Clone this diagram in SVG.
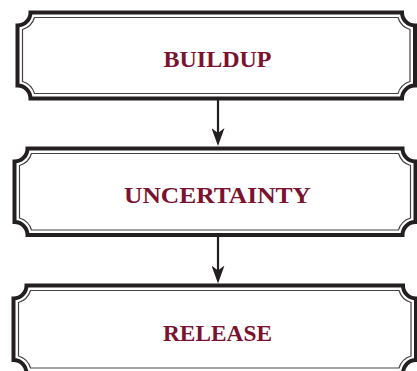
<svg xmlns="http://www.w3.org/2000/svg" width="417" height="371" viewBox="0 0 417 371">
<style>
.outer{fill:#ffffff;stroke:#231f20;stroke-width:4}
.inner{fill:none;stroke:#444444;stroke-width:1.2}
.lbl{font-family:"Liberation Serif","Times New Roman",serif;font-weight:bold;font-size:23px;fill:#7a1230;text-anchor:middle}
.conn{stroke:#231f20;stroke-width:2.2;fill:none}
</style>
<defs>
<marker id="ah" markerUnits="userSpaceOnUse" viewBox="0 0 18 13" markerWidth="18" markerHeight="13" refX="10" refY="6.5" orient="auto">
<path d="M0,0 L18,6.5 L0,13 L5,6.5 Z" fill="#231f20"/>
</marker>
</defs>
<rect width="417" height="371" fill="#ffffff"/>
<g id="connectors">
<line class="conn" x1="218" y1="100" x2="218" y2="138" marker-end="url(#ah)"/>
<line class="conn" x1="218" y1="236.5" x2="218" y2="275.5" marker-end="url(#ah)"/>
</g>
<g id="node-buildup">
<path class="outer" d="M30.5,12.5 H402 A13,13 0 0 0 415,25.5 V85.5 A13,13 0 0 0 402,98.5 H30.5 A13,13 0 0 0 17.5,85.5 V25.5 A13,13 0 0 0 30.5,12.5 Z"/>
<path class="inner" d="M34.5,17.5 H398 A18,18 0 0 0 410,29.5 V81.5 A18,18 0 0 0 398,93.5 H34.5 A18,18 0 0 0 22.5,81.5 V29.5 A18,18 0 0 0 34.5,17.5 Z"/>
<text class="lbl" x="217.5" y="67" textLength="108" lengthAdjust="spacingAndGlyphs">BUILDUP</text>
</g>
<g id="node-uncertainty">
<path class="outer" d="M27.5,148.5 H402.5 A13,13 0 0 0 415.5,161.5 V222 A13,13 0 0 0 402.5,235 H27.5 A13,13 0 0 0 14.5,222 V161.5 A13,13 0 0 0 27.5,148.5 Z"/>
<path class="inner" d="M31.5,153.5 H398.5 A18,18 0 0 0 410.5,165.5 V218 A18,18 0 0 0 398.5,230 H31.5 A18,18 0 0 0 19.5,218 V165.5 A18,18 0 0 0 31.5,153.5 Z"/>
<text class="lbl" x="217.5" y="203" textLength="187" lengthAdjust="spacingAndGlyphs">UNCERTAINTY</text>
</g>
<g id="node-release">
<path class="outer" d="M26.5,285.5 H403 A13,13 0 0 0 416,298.5 V360 A13,13 0 0 0 403,373 H26.5 A13,13 0 0 0 13.5,360 V298.5 A13,13 0 0 0 26.5,285.5 Z"/>
<path class="inner" d="M30.5,290.5 H399 A18,18 0 0 0 411,302.5 V356 A18,18 0 0 0 399,368 H30.5 A18,18 0 0 0 18.5,356 V302.5 A18,18 0 0 0 30.5,290.5 Z"/>
<text class="lbl" x="217.5" y="341" textLength="109" lengthAdjust="spacingAndGlyphs">RELEASE</text>
</g>
</svg>
